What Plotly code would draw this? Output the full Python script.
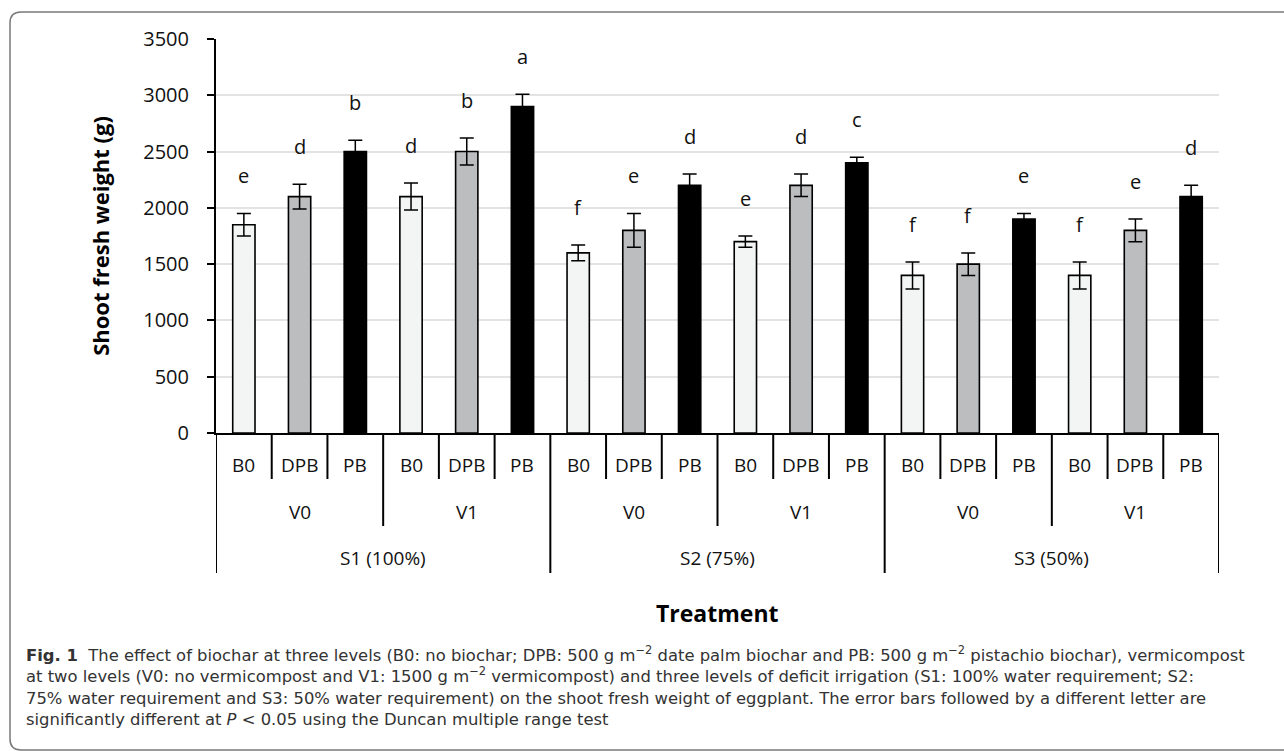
import plotly.graph_objects as go

# ---------------- data ----------------
irrigation = ["S1 (100%)", "S2 (75%)", "S3 (50%)"]
vermicompost = ["V0", "V1"]
biochar = ["B0", "DPB", "PB"]

# shoot fresh weight (g), order: S1V0(B0,DPB,PB), S1V1(...), S2V0, S2V1, S3V0, S3V1
values = [1850, 2100, 2500, 2100, 2500, 2900,
          1600, 1800, 2200, 1700, 2200, 2400,
          1400, 1500, 1900, 1400, 1800, 2100]
errors = [100, 110, 100, 120, 120, 110,
          70, 150, 100, 50, 100, 50,
          120, 100, 50, 120, 100, 100]
letters = ["e", "d", "b", "d", "b", "a",
           "f", "e", "d", "e", "d", "c",
           "f", "f", "e", "f", "e", "d"]

bar_colors = {"B0": "#f3f5f4", "DPB": "#bcbdbf", "PB": "#000000"}

y_ticks = [0, 500, 1000, 1500, 2000, 2500, 3000, 3500]

caption_lines = [
    "<b>Fig. 1</b>  The effect of biochar at three levels (B0: no biochar; DPB: 500 g m<sup>−2</sup> date palm biochar and PB: 500 g m<sup>−2</sup> pistachio biochar), vermicompost",
    "at two levels (V0: no vermicompost and V1: 1500 g m<sup>−2</sup> vermicompost) and three levels of deficit irrigation (S1: 100% water requirement; S2:",
    "75% water requirement and S3: 50% water requirement) on the shoot fresh weight of eggplant. The error bars followed by a different letter are",
    "significantly different at <i>P</i> < 0.05 using the Duncan multiple range test",
]

# ---------------- build ----------------
cats_b, cats_v, cats_s = [], [], []
for s in irrigation:
    for v in vermicompost:
        for b in biochar:
            cats_s.append(s); cats_v.append(v); cats_b.append(b)
xs = list(range(len(values)))

FONT = "Open Sans"
CAP_FONT = "DejaVu Sans"

fig = go.Figure()
fig.add_trace(go.Bar(
    x=xs, y=values, width=0.40,
    marker=dict(color=[bar_colors[b] for b in cats_b],
                line=dict(color="#000000", width=1.6)),
    error_y=dict(type="data", array=errors, visible=True,
                 color="#000000", thickness=1.5, width=7),
    showlegend=False, hoverinfo="skip",
))

annotations = []
# significance letters
for x, v, e, l in zip(xs, values, errors, letters):
    annotations.append(dict(x=x, y=v + e, xref="x", yref="y", text=l,
                            showarrow=False, yanchor="bottom", yshift=22,
                            font=dict(family=FONT, size=20, color="#111")))

H = 394.0  # plot height px
W = 1003.0  # plot width px
def py(pix):
    return (433 - pix) / H
def px(pix):
    return (pix - 216) / W

shapes = []
# level 1 labels and separators
for i, b in enumerate(cats_b):
    annotations.append(dict(x=i, y=py(465), xref="x", yref="paper", text=b,
                            showarrow=False, yanchor="middle",
                            font=dict(family=FONT, size=19, color="#111")))
for i in range(len(xs) + 1):
    xb = i - 0.5
    if i % 6 == 0:
        ybot = py(573)
    elif i % 3 == 0:
        ybot = py(526)
    else:
        ybot = py(479)
    shapes.append(dict(type="line", xref="x", yref="paper", x0=xb, x1=xb,
                       y0=0, y1=ybot, line=dict(color="#000", width=2)))
# level 2 labels
for g in range(len(irrigation) * len(vermicompost)):
    annotations.append(dict(x=g * 3 + 1, y=py(512), xref="x", yref="paper",
                            text=cats_v[g * 3], showarrow=False, yanchor="middle",
                            font=dict(family=FONT, size=19, color="#111")))
# level 3 labels
for g, s in enumerate(irrigation):
    annotations.append(dict(x=g * 6 + 2.5, y=py(558), xref="x", yref="paper",
                            text=s, showarrow=False, yanchor="middle",
                            font=dict(family=FONT, size=19, color="#111")))
# axis title
annotations.append(dict(x=0.5, y=py(613), xref="paper", yref="paper",
                        text="<b>Treatment</b>", showarrow=False, yanchor="middle",
                        font=dict(family=FONT, size=23, color="#000")))
# caption (single text block)
annotations.append(dict(x=px(24), y=py(641), xref="paper", yref="paper",
                        text="<br>".join(caption_lines), showarrow=False,
                        xanchor="left", yanchor="top", align="left",
                        font=dict(family=CAP_FONT, size=16.4, color="#333")))

# rounded frame
x0 = px(10)
x1 = 1.2
yt = py(12)
yb = py(750)
rx = 11 / W
ry = 11 / H
path = (f"M {x1},{yb} L {x0 + rx},{yb} Q {x0},{yb} {x0},{yb + ry} "
        f"L {x0},{yt - ry} Q {x0},{yt} {x0 + rx},{yt} L {x1},{yt}")
shapes.append(dict(type="path", xref="paper", yref="paper", path=path,
                   line=dict(color="#7a7a7a", width=1.5)))

fig.update_layout(
    width=1284, height=751,
    margin=dict(l=216, r=65, t=39, b=318),
    paper_bgcolor="white", plot_bgcolor="white",
    xaxis=dict(range=[-0.5, 17.5], showticklabels=False, ticks="",
               showgrid=False, zeroline=False, showline=True,
               linecolor="#000", linewidth=2, fixedrange=True),
    yaxis=dict(range=[0, 3500], tickvals=y_ticks, ticks="outside", ticklen=7,
               tickwidth=1.5, tickcolor="#000", showline=True, linecolor="#000",
               linewidth=2, showgrid=True, gridcolor="#e3e3e3", gridwidth=1.5,
               zeroline=False, ticklabelstandoff=14,
               tickfont=dict(family=FONT, size=20, color="#111"),
               title=dict(text="<b>Shoot fresh weight (g)</b>", standoff=28,
                          font=dict(family=FONT, size=22, color="#000"))),
    annotations=annotations, shapes=shapes,
)

fig.write_html("out.html")
